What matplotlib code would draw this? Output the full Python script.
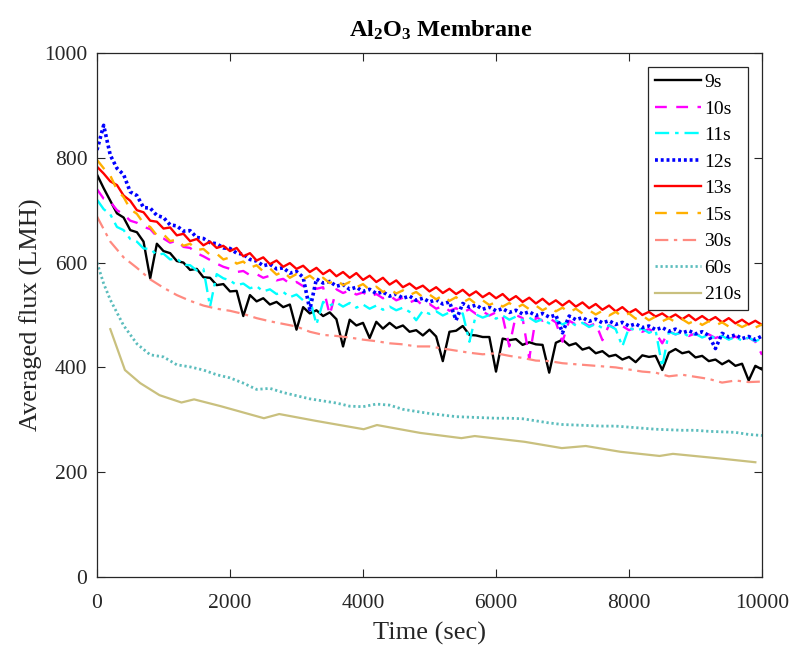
import numpy as np
import matplotlib
matplotlib.use("Agg")
import matplotlib.pyplot as plt

plt.rcParams['font.family'] = ['Liberation Serif', 'DejaVu Serif']
plt.rcParams['mathtext.fontset'] = 'custom'
plt.rcParams['mathtext.rm'] = 'Liberation Serif'
plt.rcParams['mathtext.bf'] = 'Liberation Serif:bold'

# ---- data -------------------------------------------------------------
t_dense = list(range(0, 10001, 100))

flux_9s = [768, 742, 718, 694, 686, 662, 658, 640, 570, 636, 622, 618, 603, 600, 586, 588, 572, 571, 557, 559,
           545, 546, 498, 538, 526, 532, 520, 525, 515, 520, 472, 515, 503, 509, 498, 505, 492, 440, 491, 480,
           485, 456, 487, 474, 485, 475, 480, 468, 471, 461, 472, 459, 412, 468, 470, 479, 462, 461, 458, 458,
           392, 455, 452, 454, 443, 448, 444, 443, 390, 447, 453, 442, 446, 434, 438, 427, 431, 421, 424, 415,
           420, 410, 423, 420, 422, 395, 428, 435, 427, 430, 419, 422, 412, 415, 406, 413, 403, 407, 375, 403,
           396]

flux_10s = [740, 722, 716, 700, 692, 680, 676, 668, 664, 650, 646, 638, 642, 630, 628, 618, 612, 605, 598, 592,
            588, 582, 584, 576, 578, 571, 575, 566, 569, 560, 563, 555, 559, 550, 553, 500, 549, 542, 547, 539,
            543, 535, 540, 532, 537, 528, 533, 524, 529, 518, 521, 512, 517, 508, 513, 505, 511, 502, 507, 499,
            505, 497, 440, 500, 494, 417, 496, 489, 494, 486, 449, 489, 482, 487, 479, 484, 452, 481, 474, 479,
            471, 476, 468, 473, 466, 446, 469, 463, 468, 460, 465, 458, 463, 456, 461, 454, 459, 452, 457, 449,
            424]

flux_11s = [720, 702, 692, 668, 662, 645, 640, 627, 626, 615, 617, 606, 608, 596, 595, 585, 588, 516, 578, 570,
            566, 557, 560, 551, 555, 545, 549, 540, 544, 534, 539, 528, 531, 482, 525, 518, 524, 516, 523, 514,
            520, 512, 518, 510, 516, 509, 514, 506, 490, 508, 502, 507, 499, 505, 497, 503, 449, 501, 495, 500,
            493, 499, 491, 497, 490, 495, 487, 492, 484, 490, 482, 488, 480, 485, 477, 483, 475, 480, 473, 440,
            476, 470, 474, 466, 471, 401, 468, 463, 467, 459, 464, 457, 462, 455, 460, 453, 458, 451, 457, 450,
            455]

flux_12s = [815, 862, 805, 780, 768, 735, 728, 705, 704, 690, 686, 672, 670, 660, 661, 648, 646, 638, 636, 628,
            627, 618, 616, 606, 603, 594, 597, 588, 590, 580, 583, 572, 510, 569, 561, 564, 555, 558, 549, 553,
            545, 549, 541, 544, 536, 540, 532, 536, 528, 532, 525, 529, 521, 525, 490, 522, 515, 519, 511, 515,
            508, 512, 505, 509, 502, 506, 499, 503, 496, 500, 466, 498, 491, 495, 488, 492, 485, 489, 482, 486,
            479, 483, 476, 479, 472, 476, 469, 473, 466, 470, 464, 468, 461, 436, 465, 458, 462, 455, 459, 453,
            460]

flux_13s = [783, 770, 755, 748, 728, 718, 700, 696, 680, 678, 665, 667, 652, 655, 641, 645, 633, 640, 628, 632,
            622, 628, 612, 618, 604, 610, 597, 604, 592, 599, 588, 594, 582, 590, 578, 586, 574, 582, 571, 580,
            567, 575, 563, 571, 558, 566, 553, 560, 550, 556, 545, 553, 542, 550, 540, 548, 537, 545, 534, 542,
            532, 540, 528, 536, 525, 533, 522, 531, 520, 528, 518, 527, 516, 524, 513, 521, 510, 518, 507, 515,
            504, 511, 500, 506, 497, 503, 494, 501, 492, 500, 490, 498, 489, 496, 486, 494, 484, 491, 482, 489,
            481]

flux_15s = [796, 780, 766, 739, 725, 702, 693, 675, 668, 652, 654, 641, 644, 632, 636, 624, 626, 615, 617, 606,
            610, 598, 602, 590, 595, 583, 589, 577, 583, 571, 578, 568, 575, 565, 571, 561, 567, 557, 563, 553,
            559, 548, 554, 544, 550, 541, 547, 538, 544, 534, 539, 530, 537, 527, 534, 524, 531, 521, 528, 519,
            525, 516, 523, 513, 520, 511, 518, 509, 516, 507, 514, 505, 512, 503, 509, 501, 508, 499, 506, 497,
            503, 493, 499, 490, 497, 488, 494, 486, 492, 484, 490, 481, 488, 480, 486, 478, 484, 477, 483, 476,
            482]

t_30s = list(range(0, 10001, 200))
flux_30s = [688, 640, 610, 590, 568, 552, 538, 527, 518, 512, 508, 502, 494, 488, 483, 478, 468, 462, 460, 457,
            453, 450, 446, 444, 440, 440, 436, 432, 428, 425, 427, 422, 418, 413, 412, 408, 406, 404, 402, 400,
            396, 392, 390, 383, 386, 382, 378, 371, 375, 372, 373]

t_60s = [0, 100, 200, 400, 600, 800, 1000, 1200, 1400, 1600, 1800, 2000, 2200, 2400, 2600, 2800, 3000, 3200,
         3400, 3600, 3800, 4000, 4200, 4400, 4600, 4800, 5000, 5200, 5400, 5600, 5800, 6000, 6200, 6400, 6600,
         6800, 7000, 7200, 7400, 7600, 7800, 8000, 8200, 8400, 8600, 8800, 9000, 9200, 9400, 9600, 9800, 10000]
flux_60s = [600, 560, 529, 480, 445, 424, 420, 405, 401, 395, 386, 380, 370, 358, 360, 352, 346, 340, 336, 332,
            326, 325, 330, 328, 320, 316, 312, 309, 306, 305, 304, 303, 303, 302, 298, 294, 291, 290, 289, 288,
            288, 286, 284, 282, 281, 280, 280, 278, 277, 276, 272, 270]

t_210s = [200, 420, 650, 940, 1270, 1460, 1860, 2510, 2740, 3290, 4010, 4210, 4860, 5480, 5680, 6430, 6990,
          7350, 7870, 8460, 8660, 9380, 9900]
flux_210s = [473, 395, 370, 347, 333, 339, 326, 303, 311, 298, 282, 290, 275, 265, 269, 258, 246, 250, 239, 231,
             235, 226, 219]

labels = ['9s', '10s', '11s', '12s', '13s', '15s', '30s', '60s', '210s']

# ---- figure -----------------------------------------------------------
fig = plt.figure(figsize=(7.98, 6.49), dpi=100)
ax = fig.add_axes([97 / 798, 1 - 577 / 649, 665 / 798, 524 / 649])

ax.plot(t_dense, flux_9s, color='black', lw=1.7, ls='-', label=labels[0])
ax.plot(t_dense, flux_10s, color='#FF00FF', lw=1.7, ls=(0, (5, 4)), label=labels[1])
ax.plot(t_dense, flux_11s, color='#00FFFF', lw=1.7, ls=(0, (6, 2.5, 1.5, 2.5)), label=labels[2])
ax.plot(t_dense, flux_12s, color='#0000FF', lw=2.6, ls=(0, (0.8, 0.8)), label=labels[3])
ax.plot(t_dense, flux_13s, color='#FF0000', lw=1.7, ls='-', label=labels[4])
ax.plot(t_dense, flux_15s, color='#FFB000', lw=1.7, ls=(0, (5, 4)), label=labels[5])
ax.plot(t_30s, flux_30s, color='#FF8A80', lw=1.6, ls=(0, (6, 2.5, 1.5, 2.5)), label=labels[6])
ax.plot(t_60s, flux_60s, color='#5CBDBD', lw=2.0, ls=(0, (0.8, 1.0)), label=labels[7])
ax.plot(t_210s, flux_210s, color='#C9C07E', lw=1.6, ls='-', label=labels[8])

ax.set_xlim(0, 10000)
ax.set_ylim(0, 1000)
ax.set_xticks([0, 2000, 4000, 6000, 8000, 10000])
ax.set_yticks([0, 200, 400, 600, 800, 1000])
ax.tick_params(direction='in', length=6, width=0.8, top=True, right=True,
               labelsize=15.5, colors='#262626')
ax.tick_params(axis='x', pad=12)
ax.tick_params(axis='y', pad=7)
for s in ax.spines.values():
    s.set_color('#262626')
    s.set_linewidth(0.9)

ax.set_xlabel('Time (sec)', fontsize=19, color='#262626', labelpad=7)
ax.set_ylabel('Averaged flux (LMH)', fontsize=19, color='#262626', labelpad=1)
ax.set_title(r'$\mathbf{Al_2O_3}$ Membrane', fontsize=17.5, fontweight='bold', x=0.517, pad=12)

leg = ax.legend(loc='upper right', fontsize=14, frameon=True, fancybox=False,
                edgecolor='#262626', framealpha=1, handlelength=2.4, handletextpad=0.15,
                labelspacing=0.46, borderpad=0.35, borderaxespad=0.7)
leg.get_frame().set_linewidth(0.9)

fig.savefig('out.png', dpi=100)
